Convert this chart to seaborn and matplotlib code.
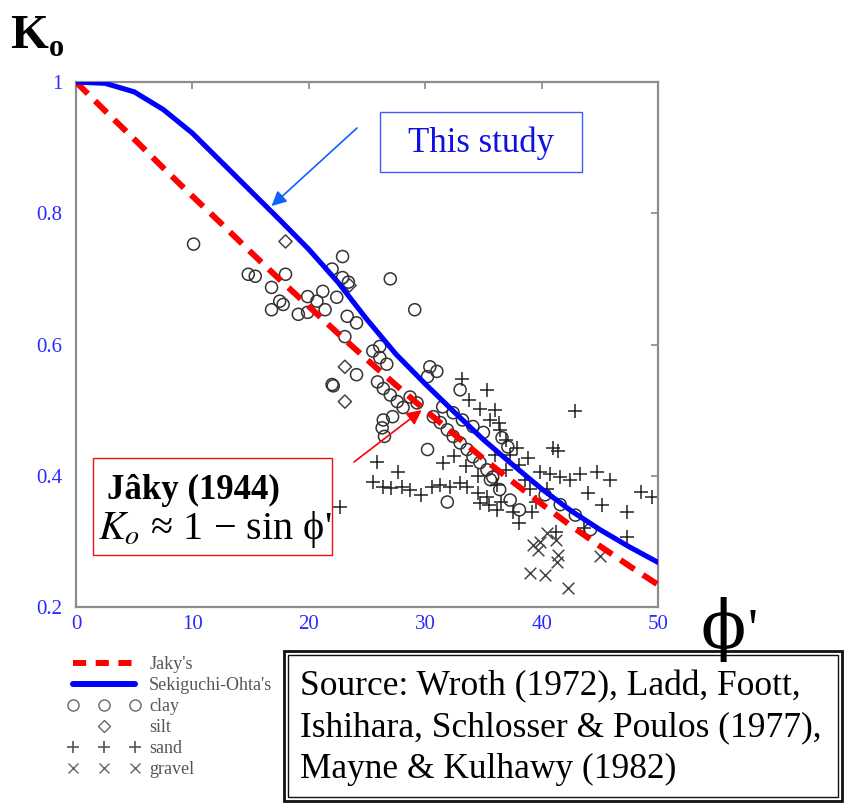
import numpy as np
import pandas as pd
import matplotlib
matplotlib.use("Agg")
import matplotlib.pyplot as plt
from matplotlib.lines import Line2D
from matplotlib.patches import Rectangle
from matplotlib.legend_handler import HandlerLine2D
import seaborn as sns

# curves (phi in degrees)
phi_curve = [0, 2.5, 5, 7.5, 10, 12.5, 15, 17.5, 20, 22.5, 25, 27.5, 30,
             32.5, 35, 37.5, 40, 42.5, 45, 47.5, 50]
jaky_k = [1.0, 0.956, 0.913, 0.869, 0.826, 0.784, 0.741, 0.699, 0.658, 0.617,
          0.577, 0.538, 0.50, 0.463, 0.426, 0.391, 0.357, 0.324, 0.293, 0.263, 0.234]
study_k = [1.0, 0.998, 0.985, 0.958, 0.922, 0.878, 0.834, 0.790, 0.745, 0.695,
           0.638, 0.585, 0.540, 0.497, 0.455, 0.417, 0.380, 0.347, 0.318, 0.292, 0.268]

# measured points
clay_phi = [10.1, 14.8, 15.4, 18.0, 16.8, 17.5, 16.8, 17.8, 19.1, 19.9, 19.9, 20.7,
            21.2, 21.4, 22.9, 22.0, 22.9, 23.4, 22.4, 23.3, 24.1, 23.1, 24.1, 22.0,
            22.1, 27.0, 29.1, 26.1, 25.5, 26.1, 26.7, 25.9, 26.4, 27.0, 27.6, 28.1,
            26.4, 26.3, 26.5, 27.2, 28.7, 29.3, 30.2, 30.4, 31.0, 30.2, 33.0,
            30.7, 31.3, 31.9, 32.4, 33.0, 33.6, 34.1, 34.7, 35.3, 35.8,
            31.5, 32.4, 33.2, 34.1, 35.0, 31.9, 36.6, 37.1, 35.6, 36.4, 37.3, 38.1,
            40.3, 41.6, 42.9, 44.2]
clay_k = [0.753, 0.707, 0.704, 0.707, 0.687, 0.666, 0.653, 0.661, 0.646, 0.673, 0.649, 0.666,
          0.681, 0.653, 0.734, 0.715, 0.702, 0.695, 0.672, 0.643, 0.633, 0.612, 0.554, 0.539,
          0.537, 0.700, 0.653, 0.597, 0.590, 0.580, 0.570, 0.543, 0.533, 0.523, 0.513, 0.504,
          0.485, 0.473, 0.460, 0.490, 0.520, 0.511, 0.440, 0.566, 0.559, 0.551, 0.531,
          0.490, 0.481, 0.470, 0.460, 0.450, 0.440, 0.429, 0.420, 0.409, 0.398,
          0.505, 0.496, 0.485, 0.475, 0.466, 0.360, 0.458, 0.444, 0.394, 0.379, 0.363, 0.348,
          0.371, 0.356, 0.340, 0.318]

silt_phi = [18.0, 23.1, 23.1, 23.5]
silt_k = [0.757, 0.566, 0.513, 0.690]

sand_phi = [22.7, 25.9, 27.7, 25.5, 26.4, 27.1, 28.0, 28.7, 29.6, 30.6, 31.3, 32.1,
            33.0, 33.6, 34.5, 35.3, 36.2, 34.7, 33.2, 35.3, 42.9, 41.0, 41.4, 38.8,
            44.8, 45.9, 44.0, 45.2, 47.3, 48.5, 49.5, 43.3, 42.4, 41.6, 40.7, 39.9,
            36.3, 36.0, 37.9, 36.2, 37.5, 38.1, 41.2, 43.6, 47.3, 33.8, 34.7, 35.6,
            36.4, 36.9, 37.3, 38.1, 38.6, 36.9, 36.0, 31.5, 32.5, 33.5, 34.5, 35.5,
            36.5, 39.0, 39.5, 40.5, 39.2]
sand_k = [0.353, 0.421, 0.406, 0.391, 0.383, 0.382, 0.383, 0.379, 0.371, 0.383, 0.386, 0.383,
          0.389, 0.383, 0.374, 0.368, 0.386, 0.359, 0.547, 0.531, 0.498, 0.443, 0.437, 0.427,
          0.406, 0.394, 0.374, 0.356, 0.345, 0.376, 0.368, 0.402, 0.394, 0.398, 0.402, 0.406,
          0.481, 0.500, 0.443, 0.348, 0.345, 0.328, 0.315, 0.320, 0.307, 0.516, 0.501, 0.485,
          0.470, 0.455, 0.432, 0.417, 0.394, 0.409, 0.432, 0.420, 0.430, 0.415, 0.400, 0.355,
          0.360, 0.380, 0.360, 0.380, 0.345]

gravel_phi = [39.9, 40.5, 39.3, 39.7, 41.2, 41.4, 41.3, 39.0, 40.3, 42.3, 45.0]
gravel_k = [0.299, 0.313, 0.295, 0.287, 0.302, 0.279, 0.269, 0.252, 0.249, 0.229, 0.278]

xticks = [0, 10, 20, 30, 40, 50]
yticks = [0.2, 0.4, 0.6, 0.8, 1.0]
ytick_labels = ["0.2", "0.4", "0.6", "0.8", "1"]

sns.set_style("white")
plt.rcParams["font.family"] = ["Liberation Serif", "DejaVu Serif"]
plt.rcParams["mathtext.fontset"] = "stix"
plt.rcParams["text.color"] = "black"

W, H = 846, 809
fig = plt.figure(figsize=(W / 100, H / 100), dpi=100)
ax = fig.add_axes([76 / W, 1 - 607 / H, (658 - 76) / W, (607 - 82) / H])


def fx(px):
    return px / W


def fy(py):
    return 1 - py / H


curves = pd.DataFrame({"phi": phi_curve, "jaky": jaky_k, "study": study_k})

pt_kw = dict(s=75, linewidth=1.1, ax=ax, legend=False, zorder=2)
sns.scatterplot(x=clay_phi, y=clay_k, marker="o", facecolor="none",
                edgecolor="#333333", **pt_kw)
sns.scatterplot(x=silt_phi, y=silt_k, marker="D", facecolor="none",
                edgecolor="#444444", **dict(pt_kw, s=45))
sns.scatterplot(x=sand_phi, y=sand_k, marker="+", color="#222222", **dict(pt_kw, s=90))
sns.scatterplot(x=gravel_phi, y=gravel_k, marker="x", color="#444444", **dict(pt_kw, s=70))

sns.lineplot(data=curves, x="phi", y="study", color="#0000ff", linewidth=3.7,
             ax=ax, zorder=4)
sns.lineplot(data=curves, x="phi", y="jaky", color="#ff0000", linewidth=4.3,
             ax=ax, zorder=3)
ax.lines[-1].set_dashes([2.8, 1.7])

ax.set_xlim(0, 50)
ax.set_ylim(0.2, 1.0)
ax.set_xticks(xticks)
ax.set_yticks(yticks, ytick_labels)
ax.set_xlabel("")
ax.set_ylabel("")
ax.tick_params(direction="in", length=5, width=1.2, color="#888888",
               top=True, right=True, labelcolor="#2a2aff", labelsize=15)
ax.tick_params(axis="y", pad=10)
ax.tick_params(axis="x", pad=6)
for sp in ax.spines.values():
    sp.set_color("#8c8c8c")
    sp.set_linewidth(1.6)

# axis titles
fig.text(fx(10), fy(48), "K", fontsize=35, weight="bold", va="baseline")
fig.text(fx(49), fy(56), "o", fontsize=22, weight="bold", va="baseline")
fig.text(fx(700), fy(648), "\u03d5", fontsize=48, family=["DejaVu Serif"],
         va="baseline", weight="light")
fig.text(fx(748), fy(648), "'", fontsize=40, va="baseline")

# "This study" box + arrow
fig.patches.append(Rectangle((fx(380), fy(172)), fx(582) - fx(380), fy(112) - fy(172),
                             transform=fig.transFigure, fill=False,
                             edgecolor="#3a5cff", linewidth=1.0))
fig.text(fx(481), fy(143), "This study", fontsize=25, color="#1010e0",
         ha="center", va="center")
ax.annotate("", xy=(16.8, 0.811), xycoords="data",
            xytext=(357, H - 128), textcoords="figure pixels",
            arrowprops=dict(arrowstyle="-|>", color="#1060ff", lw=1.2,
                            mutation_scale=22, shrinkA=0, shrinkB=0), zorder=6)

# Jaky box + arrow
fig.patches.append(Rectangle((fx(93), fy(555)), fx(332) - fx(93), fy(458) - fy(555),
                             transform=fig.transFigure, facecolor="white",
                             edgecolor="#ee1111", linewidth=1.0, zorder=5))
fig.text(fx(107), fy(490), "J\u00e2ky (1944)", fontsize=25, weight="bold",
         va="center", zorder=6)
fig.text(fx(98), fy(530), "$K_o$ \u2248 1 \u2212 sin \u03d5'",
         fontsize=29, va="center", zorder=6)
ax.annotate("", xy=(29.7, 0.50), xycoords="data",
            xytext=(354, H - 462), textcoords="figure pixels",
            arrowprops=dict(arrowstyle="-|>", color="#ff0000", lw=1.2,
                            mutation_scale=22, shrinkA=0, shrinkB=0), zorder=6)

# legend below the plot
handles = [
    Line2D([], [], color="#ff0000", lw=4.3, dashes=[2.2, 1.6]),
    Line2D([], [], color="#0000ff", lw=4.3),
    Line2D([], [], marker="o", ls="none", mfc="none", mec="#666666", ms=8, mew=1.0),
    Line2D([], [], marker="D", ls="none", mfc="none", mec="#666666", ms=6, mew=1.0),
    Line2D([], [], marker="+", ls="none", color="#555555", ms=8, mew=1.2),
    Line2D([], [], marker="x", ls="none", color="#666666", ms=7, mew=1.0),
]
labels = ["Jaky's", "Sekiguchi-Ohta's", "clay", "silt", "sand", "gravel"]
fig.legend(handles, labels, loc="upper left", bbox_to_anchor=(fx(68), fy(656)),
           frameon=False, numpoints=3, fontsize=13, handlelength=4.0,
           handletextpad=0.5, labelspacing=0.22, borderpad=0, borderaxespad=0,
           labelcolor="#555555", handler_map={handles[3]: HandlerLine2D(numpoints=1)})

# source box with double border
fig.patches.append(Rectangle((fx(284), fy(801)), fx(842) - fx(284), fy(651) - fy(801),
                             transform=fig.transFigure, fill=False,
                             edgecolor="#111111", linewidth=2.0))
fig.patches.append(Rectangle((fx(288), fy(797)), fx(838) - fx(288), fy(655) - fy(797),
                             transform=fig.transFigure, fill=False,
                             edgecolor="#111111", linewidth=1.0))
fig.text(fx(300), fy(728),
         "Source: Wroth (1972), Ladd, Foott,\nIshihara, Schlosser & Poulos (1977),\n"
         "Mayne & Kulhawy (1982)",
         fontsize=25.5, va="center", ha="left", linespacing=1.33)

fig.savefig("out.png", dpi=100)
